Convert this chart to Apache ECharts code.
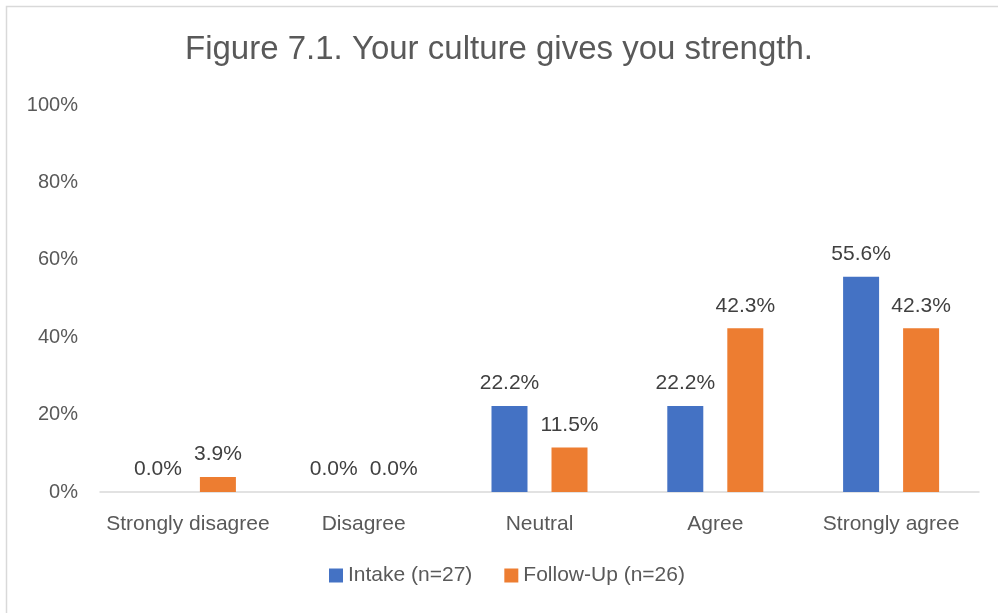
<!DOCTYPE html>
<html>
<head>
<meta charset="utf-8">
<script src="https://cdn.jsdelivr.net/npm/echarts@6/dist/echarts.min.js"></script>
<style>
  html, body { margin: 0; padding: 0; background: #ffffff; }
  #chart { width: 998px; height: 613px; }
</style>
</head>
<body>
<div id="chart"></div>
<script>
const categories = ['Strongly disagree', 'Disagree', 'Neutral', 'Agree', 'Strongly agree'];
const intake = [0.0, 0.0, 22.2, 22.2, 55.6];
const followUp = [3.9, 0.0, 11.5, 42.3, 42.3];
const seriesNames = ['Intake (n=27)', 'Follow-Up (n=26)'];
const titleText = 'Figure 7.1. Your culture gives you strength.';

const FONT = '"Liberation Sans", "DejaVu Sans", sans-serif';
const TEXT = '#595959';

const chart = echarts.init(document.getElementById('chart'), null, { renderer: 'canvas' });

const labelStyle = {
  show: true,
  position: 'top',
  distance: 12,
  color: '#404040',
  fontFamily: FONT,
  fontSize: 21,
  formatter: p => p.value.toFixed(1) + '%'
};

chart.setOption({
  backgroundColor: '#ffffff',
  animation: false,
  graphic: [{
    type: 'rect',
    shape: { x: 6.5, y: 6.5, width: 1100, height: 700 },
    style: { fill: null, stroke: '#d9d9d9', lineWidth: 1.5 },
    z: -1
  }],
  title: {
    text: titleText,
    left: 'center',
    top: 33,
    padding: [0, 0, 0, 22],
    textStyle: { fontFamily: FONT, fontSize: 33, fontWeight: 'normal', color: TEXT }
  },
  legend: {
    top: 565,
    left: 329,
    padding: 0,
    itemWidth: 14,
    itemHeight: 14,
    itemGap: 32,
    icon: 'rect',
    textStyle: { fontFamily: FONT, fontSize: 21, color: TEXT },
    data: seriesNames
  },
  grid: { left: 100, right: 19, top: 105, bottom: 121, containLabel: false },
  xAxis: {
    type: 'category',
    data: categories,
    axisLine: { lineStyle: { color: '#d9d9d9', width: 1.5 } },
    axisTick: { show: false },
    axisLabel: { fontFamily: FONT, fontSize: 21, color: TEXT, margin: 22, interval: 0, hideOverlap: false }
  },
  yAxis: {
    type: 'value',
    min: 0,
    max: 100,
    interval: 20,
    splitLine: { show: false },
    axisLine: { show: false },
    axisTick: { show: false },
    axisLabel: { fontFamily: FONT, fontSize: 20, color: TEXT, margin: 22, formatter: v => v + '%' }
  },
  series: [
    {
      name: seriesNames[0],
      type: 'bar',
      data: intake,
      barWidth: 36,
      barGap: '66.7%',
      itemStyle: { color: '#4472c4' },
      label: labelStyle
    },
    {
      name: seriesNames[1],
      type: 'bar',
      data: followUp,
      barWidth: 36,
      barGap: '66.7%',
      itemStyle: { color: '#ed7d31' },
      label: labelStyle
    }
  ]
});
</script>
</body>
</html>
